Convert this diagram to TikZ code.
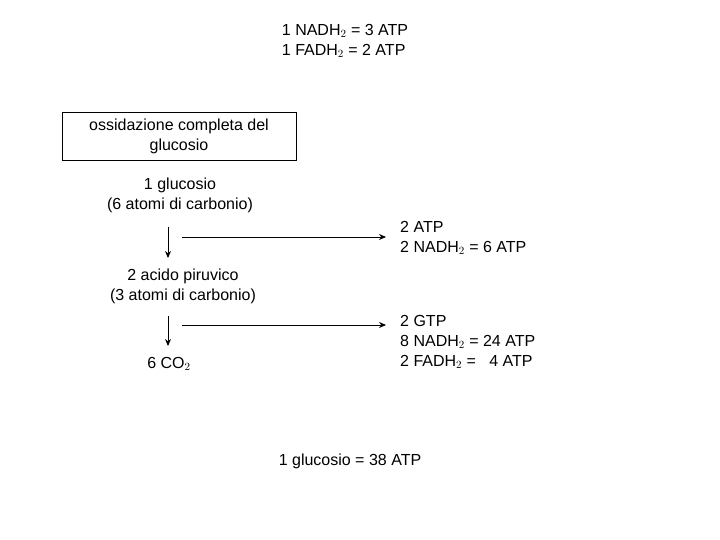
\documentclass[tikz,border=0pt]{standalone}
\usepackage{fontspec}
\setmainfont{Liberation Sans}
\usetikzlibrary{arrows.meta}
\begin{document}
\begin{tikzpicture}[x=1pt,y=-1pt,
  txt/.style={font=\fontsize{16}{20}\selectfont,inner sep=0pt},
  arr/.style={-{Stealth[length=7pt,width=6pt]},line width=0.9pt}]
\useasboundingbox (0,0) rectangle (720,540);
\node[txt,align=left] (top) at (345,41) {1 NADH$_2$ = 3 ATP\\1 FADH$_2$ = 2 ATP};
\node[draw,line width=0.8pt,minimum width=234pt,minimum height=48pt,txt,align=center] (box) at (179,136) {ossidazione completa del\\glucosio};
\node[txt,align=center] (g1) at (180,195) {1 glucosio\\(6 atomi di carbonio)};
\node[txt,align=center] (p1) at (183,286) {2 acido piruvico\\(3 atomi di carbonio)};
\node[txt] (co2) at (169,364) {6 CO$_2$};
\node[txt,align=left,anchor=west] (r1) at (400,238) {2 ATP\\2 NADH$_2$ = 6 ATP};
\node[txt,align=left,anchor=west] (r2) at (400,342) {2 GTP\\8 NADH$_2$ = 24 ATP\\2 FADH$_2$ = \ \ 4 ATP};
\node[txt] (tot) at (350,461) {1 glucosio = 38 ATP};
\coordinate (a1s) at (168,227); \coordinate (a1e) at (168,258);
\coordinate (h1s) at (182,237); \coordinate (h1e) at (386,237);
\coordinate (a2s) at (168,316); \coordinate (a2e) at (168,346);
\coordinate (h2s) at (182,325); \coordinate (h2e) at (386,325);
\draw[arr] (a1s) -- (a1e);
\draw[arr] (h1s) -- (h1e);
\draw[arr] (a2s) -- (a2e);
\draw[arr] (h2s) -- (h2e);
\end{tikzpicture}
\end{document}
